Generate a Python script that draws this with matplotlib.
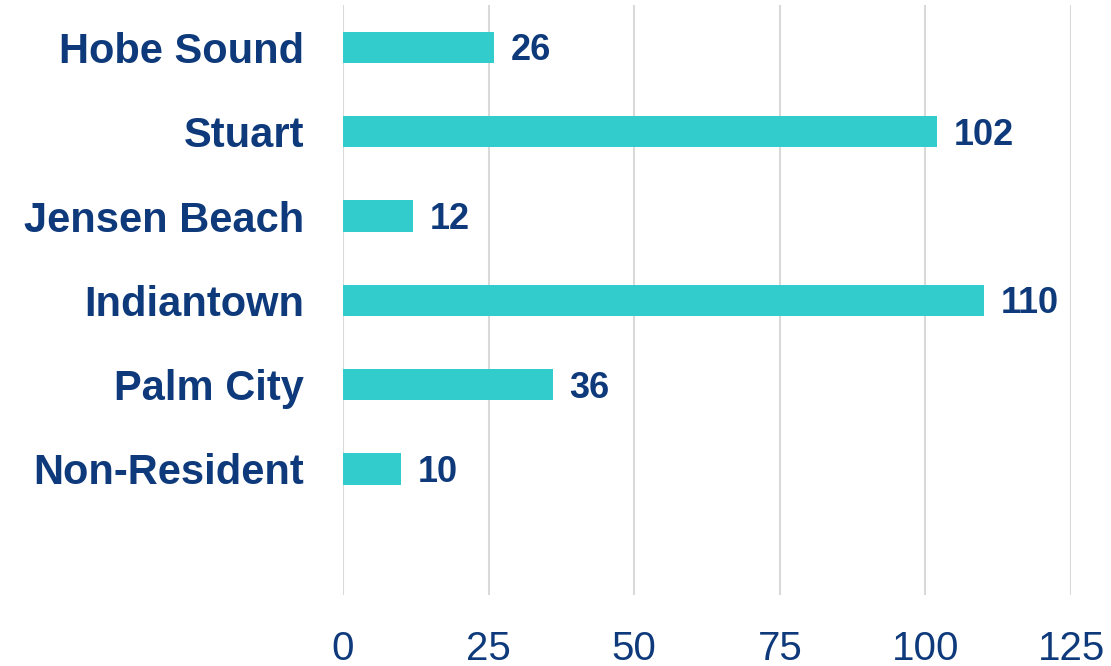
import matplotlib
matplotlib.use("Agg")
import matplotlib.pyplot as plt

categories = ["Hobe Sound", "Stuart", "Jensen Beach", "Indiantown", "Palm City", "Non-Resident"]
values = [26, 102, 12, 110, 36, 10]
xticks = [0, 25, 50, 75, 100, 125]

text_color = "#0E3A7B"
bar_color = "#33CCCC"

plt.rcParams["font.family"] = ["Liberation Sans", "DejaVu Sans"]

fig = plt.figure(figsize=(11.11, 6.66), dpi=100)
ax = fig.add_axes([0.3087, 0.106, 0.9640 - 0.3087, 0.992 - 0.106])

ypos = list(range(len(categories)))
ax.barh(ypos, values, height=0.37, color=bar_color, zorder=3)

val_fs = 26
for y, v in zip(ypos, values):
    ax.annotate(str(v), xy=(v, y), xytext=(12, -0.36 * val_fs), textcoords="offset points",
                ha="left", va="baseline", fontsize=val_fs, fontweight="bold", color=text_color)

ax.set_xlim(0, 125)
ax.set_ylim(6.5, -0.5)
ax.set_xticks(xticks)
ax.set_xticklabels([str(t) for t in xticks])
ax.set_yticks(ypos)
ax.set_yticklabels(categories)

ax.tick_params(axis="x", length=0, pad=25, labelsize=29, labelcolor=text_color)
ax.tick_params(axis="y", length=0, pad=28, labelsize=30, labelcolor=text_color)
for lbl in ax.get_yticklabels():
    lbl.set_fontweight("bold")

ax.grid(axis="x", color="#D9D9D9", linewidth=1.5, zorder=0)
ax.grid(axis="y", visible=False)
for s in ax.spines.values():
    s.set_visible(False)

fig.savefig("out.png", dpi=100)
